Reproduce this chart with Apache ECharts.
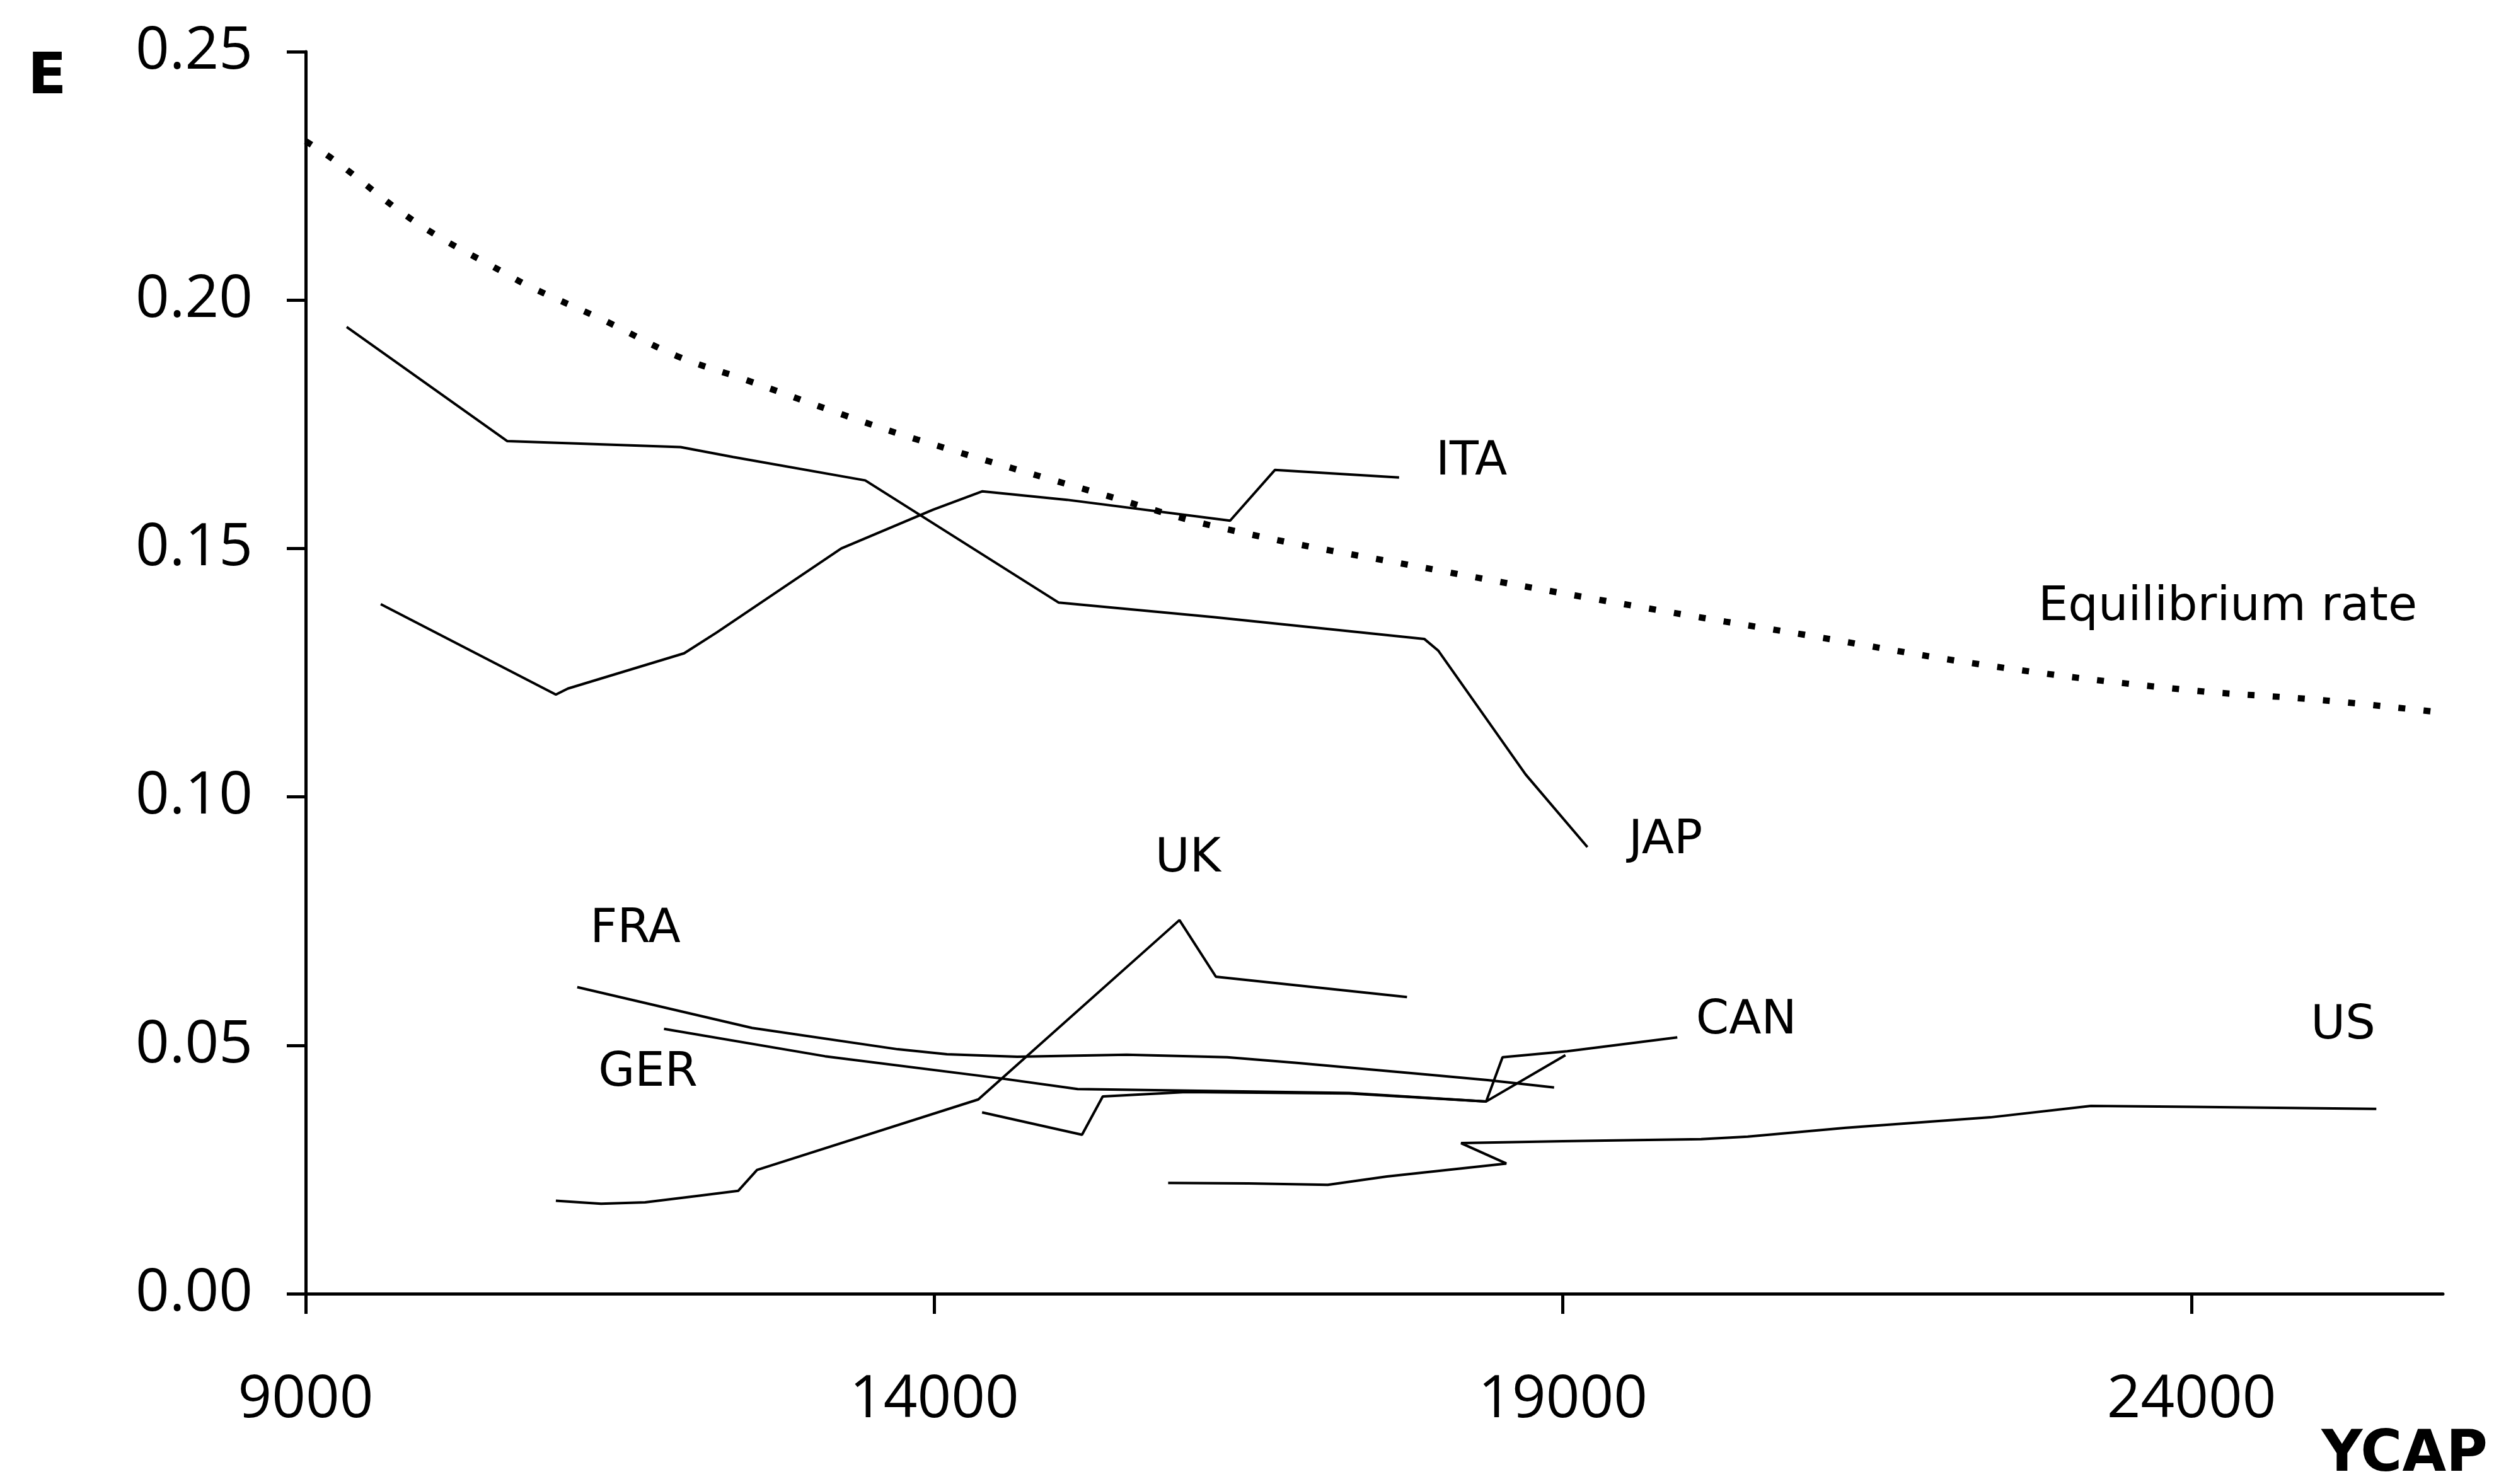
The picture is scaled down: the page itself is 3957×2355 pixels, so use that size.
<!DOCTYPE html>
<html>
<head>
<meta charset="utf-8">
<script src="https://cdn.jsdelivr.net/npm/echarts@6/dist/echarts.min.js"></script>
<style>
html,body{margin:0;padding:0;background:#fff;}
#chart{width:3957px;height:2355px;}
</style>
</head>
<body>
<div id="chart"></div>
<script>
// ---- data (YCAP, E) ----
var xTicks = [9000, 14000, 19000, 24000];
var yTicks = [0, 0.05, 0.10, 0.15, 0.20, 0.25];

var equilibrium = [[9000,0.2320],[9225,0.2282],[9892,0.2154],[10600,0.2052],[10800,0.2025],[11391,0.1957],[11947,0.1888],[12494,0.1840],[13276,0.1769],[13867,0.1719],[15321,0.1610],[16308,0.1540],[18008,0.1456],[19687,0.1379],[20905,0.1327],[22419,0.1263],[23937,0.1216],[25025,0.1195],[25913,0.1172]];
var jap = [[9326,0.1946],[10604,0.1716],[11982,0.1704],[12400,0.1684],[13451,0.1637],[14990,0.1391],[16218,0.1362],[17897,0.1318],[18010,0.1294],[18704,0.1045],[19195,0.0899]];
var ita = [[9597,0.1388],[10990,0.1206],[11085,0.1218],[12010,0.1289],[12270,0.1331],[13260,0.1500],[13990,0.1578],[14383,0.1615],[15055,0.1598],[16353,0.1556],[16709,0.1658],[17697,0.1643]];
var uk = [[10990,0.0187],[11350,0.0181],[11700,0.0184],[12120,0.0197],[12440,0.0207],[12590,0.0249],[14350,0.0391],[15950,0.0752],[16240,0.0638],[17760,0.0597]];
var fra = [[11160,0.0617],[12550,0.0535],[13710,0.0492],[14100,0.0482],[14660,0.0477],[15530,0.0481],[16330,0.0476],[16870,0.0465],[17920,0.0441],[18400,0.0430],[18930,0.0415]];
var ger = [[11850,0.0533],[13130,0.0478],[14540,0.0433],[15140,0.0412],[16800,0.0406],[17300,0.0404],[18390,0.0387],[19020,0.0480]];
var can = [[14380,0.0365],[15175,0.0320],[15340,0.0397],[16000,0.0406],[17300,0.0403],[18390,0.0387],[18520,0.0476],[19035,0.0488],[19910,0.0516]];
var us = [[15860,0.0223],[16500,0.0222],[17130,0.0219],[17600,0.0236],[18550,0.0262],[18190,0.0303],[19000,0.0307],[20100,0.0311],[20470,0.0316],[21250,0.0334],[22400,0.0355],[23200,0.0378],[24000,0.0376],[25470,0.0372]];

var labelTexts = ['ITA','JAP','Equilibrium rate','UK','FRA','GER','CAN','US'];
var labelX = [18273, 19817, 24288, 16018, 11622, 11722, 20459, 25206];
var labelY = [0.1673, 0.0911, 0.1381, 0.0874, 0.0732, 0.0443, 0.0548, 0.0539];

// ---- chart ----
var chart = echarts.init(document.getElementById('chart'), null, {renderer:'canvas'});
function countryLine(name, data){
  return {
    name: name, type: 'line', data: data, symbol: 'none', smooth: false,
    lineStyle: {color: '#000', width: 4}, silent: true, z: 3
  };
}
var labelData = labelTexts.map(function(t, i){ return [labelX[i], labelY[i]]; });

chart.setOption({
  animation: false,
  backgroundColor: '#fff',
  grid: {left: 485, right: 81, top: 82, bottom: 302, containLabel: false, outerBoundsMode: 'none'},
  xAxis: {
    type: 'value', min: 9000, max: 26000, interval: 5000,
    axisLine: {show: true, lineStyle: {color: '#000', width: 5}},
    axisTick: {show: true, length: 32, lineStyle: {color: '#000', width: 5}, customValues: xTicks},
    axisLabel: {show: true, margin: 122, color: '#000', fontFamily: 'Open Sans', fontSize: 94, customValues: xTicks,
      formatter: function(v){ return String(v); }},
    splitLine: {show: false}
  },
  yAxis: {
    type: 'value', min: 0, max: 0.25, interval: 0.05,
    axisLine: {show: true, lineStyle: {color: '#000', width: 5}},
    axisTick: {show: true, length: 30, lineStyle: {color: '#000', width: 5}},
    axisLabel: {show: true, margin: 84, color: '#000', fontFamily: 'Open Sans', fontSize: 94,
      formatter: function(v){ return v.toFixed(2); }},
    splitLine: {show: false}
  },
  graphic: [
    {type: 'text', left: 44, top: 80, style: {text: 'E', fontFamily: 'DejaVu Sans', fontWeight: 'bold', fontSize: 90, fill: '#000'}},
    {type: 'text', right: 10, top: 2266, style: {text: 'YCAP', fontFamily: 'DejaVu Sans', fontWeight: 'bold', fontSize: 90, fill: '#000'}}
  ],
  series: [
    {
      name: 'Equilibrium rate', type: 'line', data: equilibrium, symbol: 'none', smooth: 0.4, silent: true,
      lineStyle: {color: '#000', width: 10, type: [11, 29], cap: 'butt'}, z: 2
    },
    countryLine('JAP', jap),
    countryLine('ITA', ita),
    countryLine('UK', uk),
    countryLine('FRA', fra),
    countryLine('GER', ger),
    countryLine('CAN', can),
    countryLine('US', us),
    {
      name: 'labels', type: 'custom', data: labelData, silent: true, z: 5,
      renderItem: function(params, api){
        var p = api.coord([api.value(0), api.value(1)]);
        return {
          type: 'text', x: p[0], y: p[1],
          style: {text: labelTexts[params.dataIndex], fill: '#000', fontFamily: 'DejaVu Sans', fontSize: 75,
            align: 'center', verticalAlign: 'middle'}
        };
      }
    }
  ]
});
</script>
</body>
</html>
